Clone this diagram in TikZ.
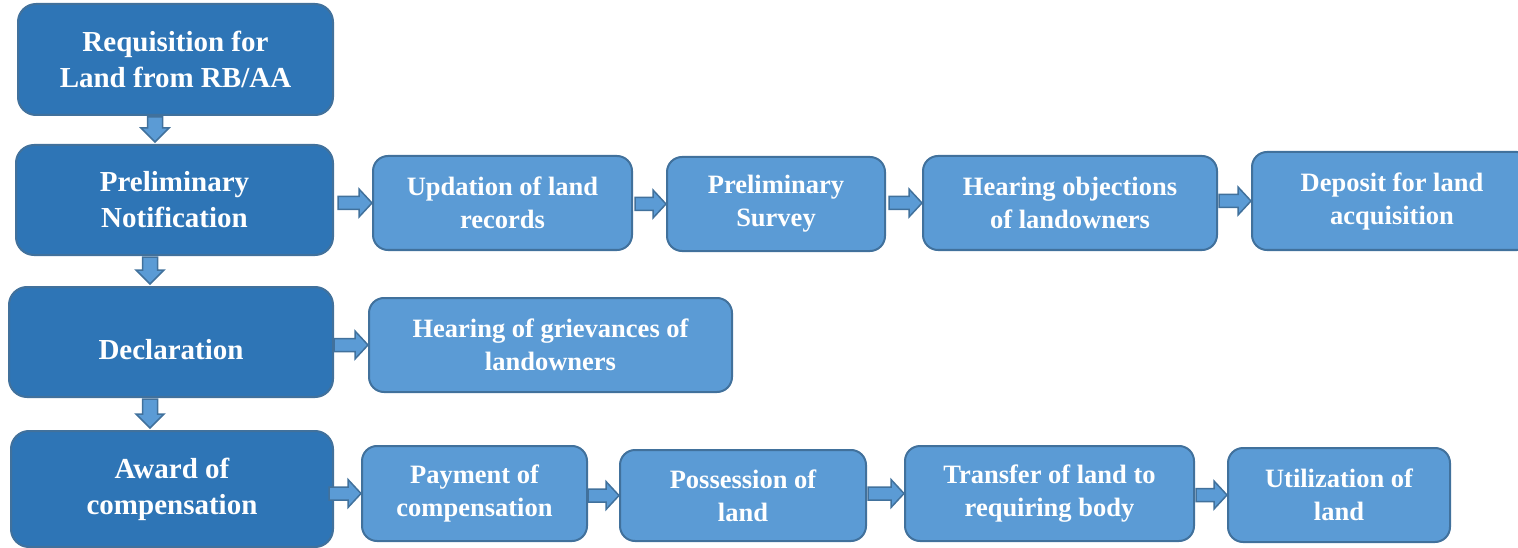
\documentclass[tikz,border=0pt]{standalone}
\usepackage{fontspec}
\setmainfont{Liberation Serif}
\usetikzlibrary{calc}
\definecolor{darkfill}{HTML}{2E75B6}
\definecolor{lightfill}{HTML}{5B9BD5}
\definecolor{edgeblue}{HTML}{41719C}
\tikzset{
  mainbox/.style={draw=edgeblue, line width=2pt, fill=darkfill, rounded corners=18pt, text=white,
    font=\bfseries\fontsize{29}{36}\selectfont, align=center, inner sep=0pt},
  subbox/.style={draw=edgeblue, line width=2pt, fill=lightfill, rounded corners=15pt, text=white,
    font=\bfseries\fontsize{26.5}{33}\selectfont, align=center, inner sep=0pt},
  blockarrow/.style={draw=edgeblue, line width=1.5pt, fill=lightfill, line join=miter}
}
\newcommand{\harrow}[3]{\draw[blockarrow] let \p1=(#1.east), \p2=(#2.west) in
  (\x1+#3pt,\y2+6.5pt) -- (\x2-13pt,\y2+6.5pt) -- (\x2-13pt,\y2+14pt) -- (\x2,\y2)
  -- (\x2-13pt,\y2-14pt) -- (\x2-13pt,\y2-6.5pt) -- (\x1+#3pt,\y2-6.5pt) -- cycle;}
\newcommand{\varrow}[3]{\draw[blockarrow] let \p1=(#1.south), \p2=(#2.north) in
  (#3pt-7.5pt,\y1-1pt) -- (#3pt-7.5pt,\y2+16pt) -- (#3pt-14pt,\y2+16pt) -- (#3pt,\y2+2pt)
  -- (#3pt+14pt,\y2+16pt) -- (#3pt+7.5pt,\y2+16pt) -- (#3pt+7.5pt,\y1-1pt) -- cycle;}
\begin{document}
\begin{tikzpicture}[x=1pt,y=-1pt]
\useasboundingbox (0,0) rectangle (1518,548);
% main column
\node[mainbox, minimum width=315pt, minimum height=111pt] (req) at (175.5,59.5) {Requisition for\\Land from RB/AA};
\node[mainbox, minimum width=317pt, minimum height=110pt] (prelim) at (174.5,200) {Preliminary\\Notification};
\node[mainbox, minimum width=324pt, minimum height=110pt, text height=34pt, text depth=0pt] (decl) at (171,342) {Declaration};
\node[mainbox, minimum width=322pt, minimum height=116pt] (award) at (172,489) {Award of\\compensation};
% row 1
\node[subbox, minimum width=259pt, minimum height=94pt] (upd) at (502.5,203) {Updation of land\\records};
\node[subbox, minimum width=218pt, minimum height=94pt] (psurv) at (776,204) {Preliminary\\Survey};
\node[subbox, minimum width=294pt, minimum height=94pt] (hear) at (1070,203) {Hearing objections\\of landowners};
\node[subbox, minimum width=280pt, minimum height=98pt] (dep) at (1392,201) {Deposit for land\\acquisition};
% row 2
\node[subbox, minimum width=363pt, minimum height=94pt] (griev) at (550.5,345) {Hearing of grievances of\\landowners};
% row 3
\node[subbox, minimum width=225pt, minimum height=95pt] (pay) at (474.5,493.5) {Payment of\\compensation};
\node[subbox, minimum width=246pt, minimum height=91pt] (poss) at (743,495.5) {Possession of\\land};
\node[subbox, minimum width=289pt, minimum height=95pt] (trans) at (1049.5,493.5) {Transfer of land to\\requiring body};
\node[subbox, minimum width=222pt, minimum height=94pt] (util) at (1339,495) {Utilization of\\land};
% vertical arrows
\varrow{req}{prelim}{155}
\varrow{prelim}{decl}{150}
\varrow{decl}{award}{150}
% horizontal arrows
\harrow{prelim}{upd}{4}
\harrow{upd}{psurv}{2}
\harrow{psurv}{hear}{3}
\harrow{hear}{dep}{1}
\harrow{decl}{griev}{0}
\harrow{award}{pay}{-5}
\harrow{pay}{poss}{0}
\harrow{poss}{trans}{1}
\harrow{trans}{util}{1}
\end{tikzpicture}
\end{document}
